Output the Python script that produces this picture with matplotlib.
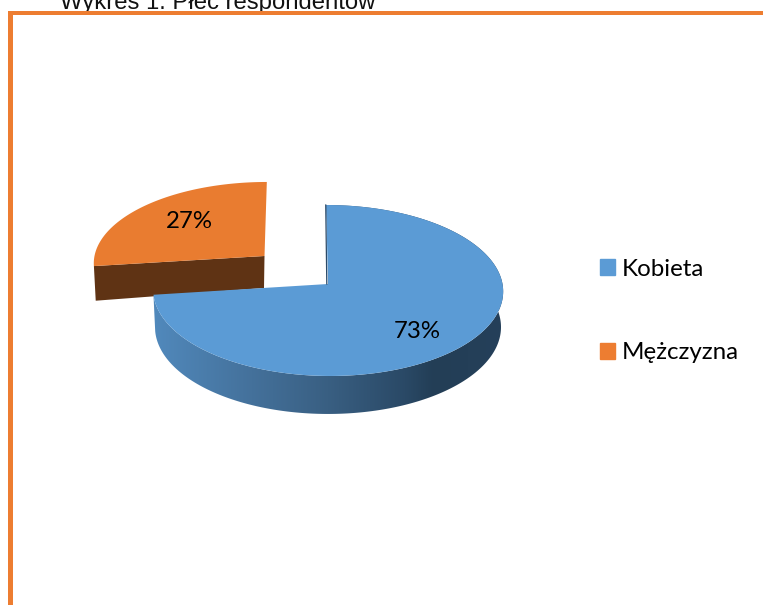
import numpy as np
import matplotlib
matplotlib.use('Agg')
import matplotlib.pyplot as plt
from matplotlib.colors import LinearSegmentedColormap
from matplotlib.patches import Patch, Polygon, Rectangle

# dane wykresu
kategorie = ['Kobieta', 'Mężczyzna']
wartosci = [73, 27]

NIEBIESKI = '#5B9BD5'
POMARANCZ = '#ED7D31'
POMARANCZ_GORA = '#E97C30'
BRAZ = '#5F3314'
OBRAMOWANIE = '#ED7D31'

W, H = 763, 605
fig = plt.figure(figsize=(W / 100, H / 100), dpi=100)
ax = fig.add_axes([0, 0, 1, 1])


def rzut(kat, srodek, c, a, k=0.076, s=0.0):
    # kat liczony od godziny 12 zgodnie ze wskazowkami, rzut perspektywiczny tarczy
    kat = np.radians(kat)
    u, v = np.sin(kat), np.cos(kat)
    m = 1 + k * v
    return srodek[0] + (c * u + s * v) / m, (a * v + srodek[1]) / m


def plaster(kat0, kat1, srodek, c, a, s=0.0):
    t = np.linspace(kat0, kat1, 200)
    x, y = rzut(t, srodek, c, a, s=s)
    return np.r_[srodek[0], x], np.r_[srodek[1], y]


# katy wycinkow z wartosci
katy = 360 * np.cumsum([0] + wartosci) / sum(wartosci)

# wycinek pomaranczowy (wysuniety)
sr_o = (264.5, 256)
x0, y0 = rzut(katy[1], sr_o, 170, -60.2, s=2.5)
x1, y1 = rzut(katy[1], (264, 290.3), 168, -60.2)
ax.fill([sr_o[0], x0, x1, 264], [sr_o[1], y0, y1, 288], color=BRAZ, lw=0)
ax.fill(*plaster(katy[1], katy[2], sr_o, 170, -60.2, s=2.5), color=POMARANCZ_GORA, lw=0)

# sciana boczna niebieskiego wycinka z gradientem
sr_b, sr_b_dol = (328, 284), (328, 320.5)
t = np.linspace(katy[0], katy[1], 300)
xg, yg = rzut(t, sr_b, 174.5, -63.4, s=-2)
xd, yd = rzut(t[::-1], sr_b_dol, 172.5, -62)
sciana = Polygon(np.c_[np.r_[xg, xd], np.r_[yg, yd]], transform=ax.transData, fc='none', lw=0)
ax.add_patch(sciana)
gradient = LinearSegmentedColormap.from_list('bok', [
    (0.00, '#5189BC'), (0.28, '#44719B'), (0.50, '#395F82'),
    (0.72, '#2A4966'), (0.80, '#233E56'), (1.00, '#25405A')])
obraz = ax.imshow(np.linspace(0, 1, 256)[None, :], cmap=gradient, aspect='auto',
                  extent=[153, 504, 420, 200], interpolation='bilinear')
obraz.set_clip_path(sciana)

# ciemna krawedz przy poczatku niebieskiego wycinka
xk, yk = rzut(katy[0], sr_b, 174.5, -63.4, s=-2)
ax.plot([xk - 0.4, sr_b[0] - 1.2], [yk, sr_b[1]], color='#2B4A68', lw=0.9)
ax.fill(*plaster(katy[0], katy[1], sr_b, 174.5, -63.4, s=-2), color=NIEBIESKI, lw=0)

# etykiety procentowe
pozycje = [(417, 332), (189, 222)]
for wart, (px, py) in zip(wartosci, pozycje):
    ax.text(px, py, f'{wart}%', ha='center', va='center', fontsize=17.3,
            family='Lato', color='black')

# tytul i obramowanie
ax.text(60, 8.5, 'Wykres 1. Płeć respondentów', fontsize=17.2, family='Liberation Sans',
        ha='left', va='baseline', color='#111111', zorder=1)
ax.add_patch(Rectangle((7.5, 11), 5, H - 11, fc=OBRAMOWANIE, lw=0, zorder=3))
ax.add_patch(Rectangle((7.5, 11), W - 7.5, 4, fc=OBRAMOWANIE, lw=0, zorder=3))

# legenda
uchwyty = [Patch(color=NIEBIESKI), Patch(color=POMARANCZ)]
ax.legend(uchwyty, kategorie, loc='upper left', bbox_to_anchor=(600, 258.5),
          bbox_transform=ax.transData, frameon=False, borderpad=0, borderaxespad=0,
          handlelength=0.62, handleheight=0.62, handletextpad=0.27, labelspacing=2.6,
          prop={'family': 'Lato', 'size': 17.4})

ax.set_xlim(0, W)
ax.set_ylim(H, 0)
ax.axis('off')
fig.savefig('out.png', dpi=100)
